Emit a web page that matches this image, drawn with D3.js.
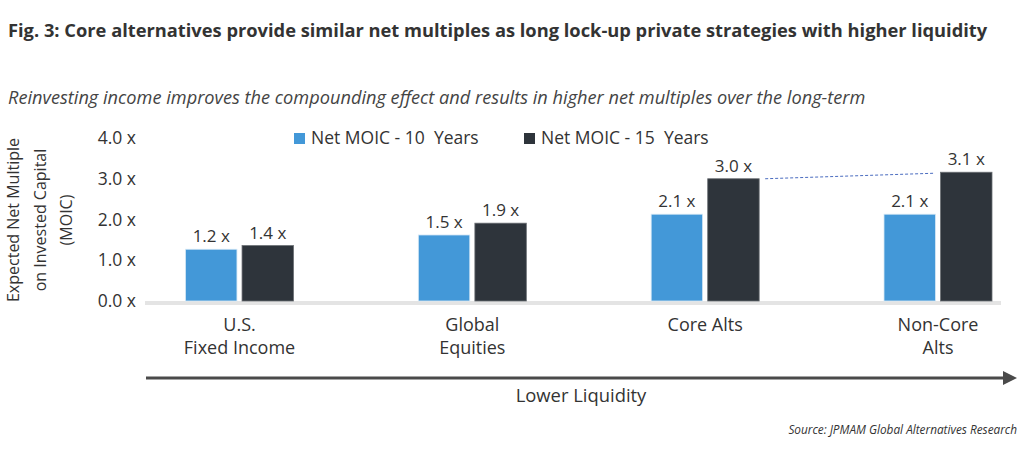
<!DOCTYPE html>
<html>
<head>
<meta charset="utf-8">
<script src="https://cdn.jsdelivr.net/npm/d3@7/dist/d3.min.js"></script>
<style>
  body { margin: 0; background: #fff; }
  svg text { font-family: "Open Sans", sans-serif; white-space: pre; }
</style>
</head>
<body>
<div id="chart"></div>
<script>
// data
const categories = [['U.S.', 'Fixed Income'], ['Global', 'Equities'], ['Core Alts'], ['Non-Core', 'Alts']];
const seriesNames = ['Net MOIC - 10  Years', 'Net MOIC - 15  Years'];
const values10 = [1.27, 1.62, 2.13, 2.13];
const values15 = [1.36, 1.91, 3.0, 3.16];
const labels10 = ['1.2 x', '1.5 x', '2.1 x', '2.1 x'];
const labels15 = ['1.4 x', '1.9 x', '3.0 x', '3.1 x'];
const yTicks = [0, 1, 2, 3, 4];

const width = 1024;
const height = 460;
const colors = ['#4398d8', '#2e343b'];
const strokes = ['#d6e8f6', '#6a6e73'];

const svg = d3.select('#chart')
              .append('svg')
              .attr('width', width)
              .attr('height', height);

const catKeys = categories.map((c) => c.join(' '));

const x = d3.scalePoint()
            .domain(catKeys)
            .range([239.5, 938]);

const xInner = d3.scaleBand()
                 .domain([0, 1])
                 .range([-54, 54])
                 .paddingInner(0.09);

const y = d3.scaleLinear()
            .domain([0, 4])
            .range([301, 138]);

// title + subtitle
svg.append('text')
   .attr('x', 8)
   .attr('y', 37)
   .style('font-size', '18.3px')
   .style('font-weight', 'bold')
   .style('fill', '#333')
   .text('Fig. 3: Core alternatives provide similar net multiples as long lock-up private strategies with higher liquidity');

svg.append('text')
   .attr('x', 8)
   .attr('y', 104)
   .style('font-size', '18.2px')
   .style('font-style', 'italic')
   .style('fill', '#444')
   .text('Reinvesting income improves the compounding effect and results in higher net multiples over the long-term');

// y axis labels
const yAxis = d3.axisLeft(y)
                .tickValues(yTicks)
                .tickSize(0)
                .tickPadding(0)
                .tickFormat((d) => d3.format('.1f')(d) + ' x');

svg.append('g')
   .attr('transform', 'translate(136,0)')
   .call(yAxis)
   .call((g) => g.select('.domain').remove())
   .selectAll('text')
   .style('font-size', '17.5px')
   .style('fill', '#333')
   .style('font-family', '"Open Sans", sans-serif');

// y title
const yTitle = ['Expected Net Multiple', 'on Invested Capital', '(MOIC)'];
svg.append('text')
   .attr('transform', 'translate(0,220) rotate(-90)')
   .style('font-size', '16px')
   .style('fill', '#333')
   .attr('text-anchor', 'middle')
   .selectAll('tspan')
   .data(yTitle)
   .enter()
   .append('tspan')
   .attr('x', 0)
   .attr('y', (d, i) => 19 + i * 26.5)
   .text((d) => d);

// baseline
svg.append('line')
   .attr('x1', 145)
   .attr('x2', 1001)
   .attr('y1', y(0) + 2)
   .attr('y2', y(0) + 2)
   .attr('stroke', '#e4e4e4')
   .attr('stroke-width', 4);

// bars
const groups = svg.selectAll('g.group')
                  .data(catKeys)
                  .enter()
                  .append('g')
                  .attr('class', 'group')
                  .attr('transform', (d) => 'translate(' + x(d) + ',0)');

const series = [values10, values15];
const seriesLabels = [labels10, labels15];

groups.selectAll('rect')
      .data((d, i) => [0, 1].map((s) => ({ s: s, v: series[s][i], label: seriesLabels[s][i] })))
      .enter()
      .append('rect')
      .attr('x', (d) => xInner(d.s))
      .attr('width', xInner.bandwidth())
      .attr('y', (d) => y(d.v))
      .attr('height', (d) => y(0) - y(d.v))
      .attr('fill', (d) => colors[d.s])
      .attr('stroke', (d) => strokes[d.s])
      .attr('stroke-width', 0.8);

groups.selectAll('text.val')
      .data((d, i) => [0, 1].map((s) => ({ s: s, v: series[s][i], label: seriesLabels[s][i] })))
      .enter()
      .append('text')
      .attr('class', 'val')
      .attr('x', (d) => xInner(d.s) + xInner.bandwidth() / 2)
      .attr('y', (d) => y(d.v) - 7)
      .attr('text-anchor', 'middle')
      .style('font-size', '17px')
      .style('fill', '#333')
      .text((d) => d.label);

// dashed connector between core alts and non-core alts 15y bars
svg.append('line')
   .attr('x1', x(catKeys[2]) + xInner(1) + xInner.bandwidth() + 6)
   .attr('y1', y(values15[2]))
   .attr('x2', x(catKeys[3]) + xInner(1) - 6)
   .attr('y2', y(values15[3]) + 1)
   .attr('stroke', '#4a6cc0')
   .attr('stroke-width', 1)
   .attr('stroke-dasharray', '3,2');

// category labels
groups.append('text')
      .attr('text-anchor', 'middle')
      .style('font-size', '18px')
      .style('fill', '#333')
      .selectAll('tspan')
      .data((d, i) => categories[i])
      .enter()
      .append('tspan')
      .attr('x', 0)
      .attr('y', (d, i) => 331 + i * 22.5)
      .text((d) => d);

// legend
const legend = svg.append('g');
const legendX = [294, 524];
seriesNames.forEach((name, i) => {
  legend.append('rect')
        .attr('x', legendX[i])
        .attr('y', 133)
        .attr('width', 11)
        .attr('height', 11)
        .attr('fill', colors[i]);
  legend.append('text')
        .attr('x', legendX[i] + 17)
        .attr('y', 144)
        .style('font-size', '17.5px')
        .style('fill', '#333')
        .text(name);
});

// liquidity arrow
svg.append('defs')
   .append('marker')
   .attr('id', 'arrow')
   .attr('viewBox', '0 0 10 10')
   .attr('refX', 0)
   .attr('refY', 5)
   .attr('markerWidth', 5)
   .attr('markerHeight', 5)
   .attr('markerUnits', 'strokeWidth')
   .attr('orient', 'auto')
   .append('path')
   .attr('d', 'M0,0 L10,5 L0,10 z')
   .attr('fill', '#4a4a4a');

svg.append('line')
   .attr('x1', 146)
   .attr('x2', 1003)
   .attr('y1', 378)
   .attr('y2', 378)
   .attr('stroke', '#4a4a4a')
   .attr('stroke-width', 2.8)
   .attr('marker-end', 'url(#arrow)');

svg.append('text')
   .attr('x', 581)
   .attr('y', 402)
   .attr('text-anchor', 'middle')
   .style('font-size', '18.4px')
   .style('fill', '#333')
   .text('Lower Liquidity');

svg.append('text')
   .attr('x', 1017)
   .attr('y', 434)
   .attr('text-anchor', 'end')
   .style('font-size', '11.8px')
   .style('font-style', 'italic')
   .style('fill', '#333')
   .text('Source: JPMAM Global Alternatives Research');
</script>
</body>
</html>
